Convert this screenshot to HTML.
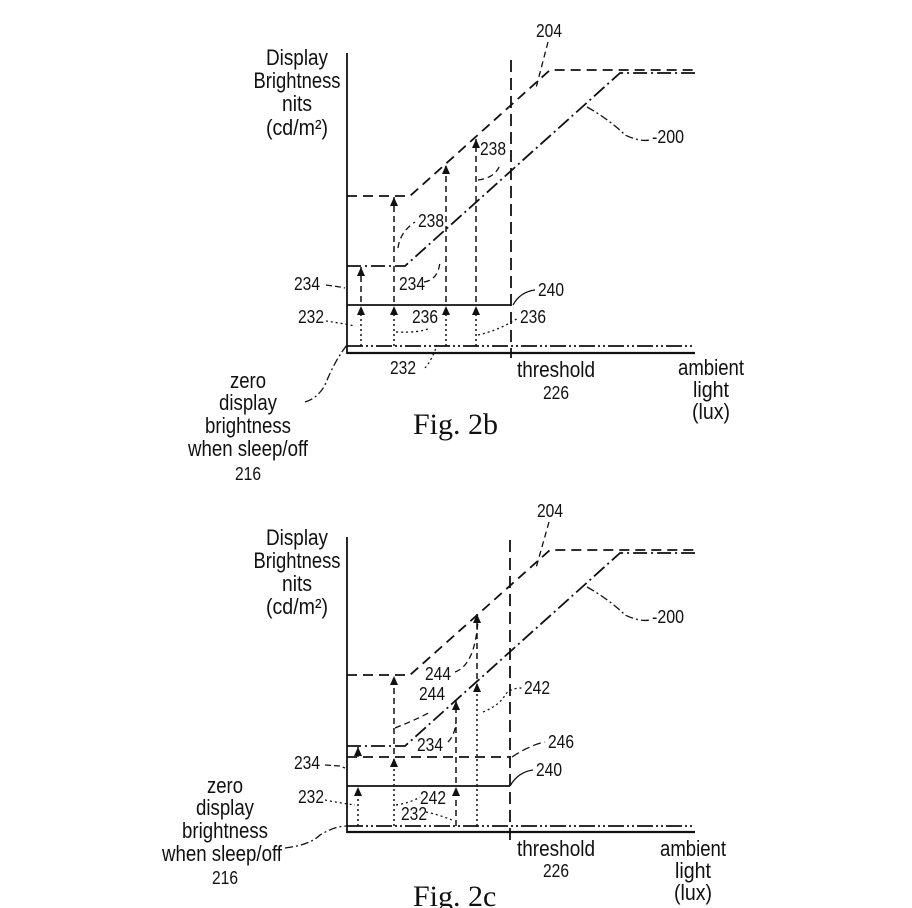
<!DOCTYPE html>
<html><head><meta charset="utf-8"><style>
html,body{margin:0;padding:0;background:#fff;}
svg{display:block}
text{font-family:"Liberation Sans",sans-serif;fill:#111;}
.n{font-size:18px}
.L{font-size:22px}
.f{font-family:"Liberation Serif",serif;font-size:30px}
</style></head><body>
<svg width="912" height="908" viewBox="0 0 912 908" xmlns="http://www.w3.org/2000/svg" stroke="#111" fill="none">
<defs>
<marker id="a" markerWidth="10" markerHeight="8" refX="9" refY="4" orient="auto" markerUnits="userSpaceOnUse">
<path d="M0,0 L9,4 L0,8 Z" fill="#111" stroke="none"/></marker>
</defs>

<!-- ============ FIG 2b ============ -->
<g stroke-width="1.8">
<line x1="347" y1="53" x2="347" y2="354"/>
<line x1="347" y1="353" x2="695" y2="353" stroke-width="2.2"/>
<line x1="347" y1="346" x2="695" y2="346" stroke-dasharray="16 3 2 3 2 3"/>
<line x1="511" y1="60" x2="511" y2="358" stroke-dasharray="12 6"/>
<polyline points="347,196 410,196 550,70 695,70" stroke-dasharray="10 6"/>
<polyline points="347,266 405,266 620,73 695,73" stroke-dasharray="14 4 2 4"/>
<line x1="347" y1="305" x2="511" y2="305"/>
<g stroke-width="1.5">
<line x1="361" y1="346" x2="361" y2="306" stroke-dasharray="2 3" marker-end="url(#a)"/>
<line x1="361" y1="302" x2="361" y2="267" stroke-dasharray="6 4" marker-end="url(#a)"/>
<line x1="394" y1="346" x2="394" y2="306" stroke-dasharray="2 3" marker-end="url(#a)"/>
<line x1="394" y1="302" x2="394" y2="197" stroke-dasharray="6 4" marker-end="url(#a)"/>
<line x1="446" y1="346" x2="446" y2="306" stroke-dasharray="2 3" marker-end="url(#a)"/>
<line x1="446" y1="302" x2="446" y2="165" stroke-dasharray="6 4" marker-end="url(#a)"/>
<line x1="476" y1="346" x2="476" y2="306" stroke-dasharray="2 3" marker-end="url(#a)"/>
<line x1="476" y1="302" x2="476" y2="139" stroke-dasharray="6 4" marker-end="url(#a)"/>
</g>
<g stroke-width="1.3">
<path d="M548,42 L536,88" stroke-dasharray="6 4"/>
<path d="M587,107 Q610,120 625,135 Q640,142 650,140" stroke-dasharray="8 3 2 3"/>
<path d="M478,180 Q495,178 500,165" stroke-dasharray="6 4"/>
<path d="M398,248 Q400,232 415,222" stroke-dasharray="6 4"/>
<path d="M424,282 Q438,280 440,262" stroke-dasharray="6 4"/>
<path d="M326,285 L340,287 L345,288" stroke-dasharray="6 3"/>
<path d="M513,305 Q520,292 535,290"/>
<path d="M326,321 Q340,323 355,326" stroke-dasharray="2 3"/>
<path d="M396,332 Q420,333 430,328" stroke-dasharray="2 3"/>
<path d="M478,335 Q500,330 518,318" stroke-dasharray="2 3"/>
<path d="M425,368 Q432,360 437,345" stroke-dasharray="2 3"/>
<path d="M305,402 Q318,398 325,385 Q335,360 347,345" stroke-dasharray="8 3 2 3"/>
</g>
</g>
<g stroke="none">
<text class="L" x="297" y="65" text-anchor="middle" textLength="62" lengthAdjust="spacingAndGlyphs">Display</text>
<text class="L" x="297" y="88" text-anchor="middle" textLength="87" lengthAdjust="spacingAndGlyphs">Brightness</text>
<text class="L" x="297" y="111" text-anchor="middle" textLength="30" lengthAdjust="spacingAndGlyphs">nits</text>
<text class="L" x="297" y="135" text-anchor="middle" textLength="62" lengthAdjust="spacingAndGlyphs">(cd/m²)</text>
<text class="n" x="536" y="37" textLength="26" lengthAdjust="spacingAndGlyphs">204</text>
<text class="n" x="652" y="143" textLength="32" lengthAdjust="spacingAndGlyphs">-200</text>
<text class="n" x="480" y="155" textLength="26" lengthAdjust="spacingAndGlyphs">238</text>
<text class="n" x="418" y="227" textLength="26" lengthAdjust="spacingAndGlyphs">238</text>
<text class="n" x="294" y="290" textLength="26" lengthAdjust="spacingAndGlyphs">234</text>
<text class="n" x="399" y="290" textLength="26" lengthAdjust="spacingAndGlyphs">234</text>
<text class="n" x="538" y="296" textLength="26" lengthAdjust="spacingAndGlyphs">240</text>
<text class="n" x="298" y="323" textLength="26" lengthAdjust="spacingAndGlyphs">232</text>
<text class="n" x="412" y="323" textLength="26" lengthAdjust="spacingAndGlyphs">236</text>
<text class="n" x="520" y="323" textLength="26" lengthAdjust="spacingAndGlyphs">236</text>
<text class="n" x="390" y="374" textLength="26" lengthAdjust="spacingAndGlyphs">232</text>
<text class="L" x="556" y="377" text-anchor="middle" textLength="78" lengthAdjust="spacingAndGlyphs">threshold</text>
<text class="n" x="556" y="399" text-anchor="middle" textLength="26" lengthAdjust="spacingAndGlyphs">226</text>
<text class="L" x="711" y="375" text-anchor="middle" textLength="66" lengthAdjust="spacingAndGlyphs">ambient</text>
<text class="L" x="711" y="397" text-anchor="middle" textLength="36" lengthAdjust="spacingAndGlyphs">light</text>
<text class="L" x="711" y="419" text-anchor="middle" textLength="38" lengthAdjust="spacingAndGlyphs">(lux)</text>
<text class="L" x="248" y="388" text-anchor="middle" textLength="36" lengthAdjust="spacingAndGlyphs">zero</text>
<text class="L" x="248" y="410" text-anchor="middle" textLength="58" lengthAdjust="spacingAndGlyphs">display</text>
<text class="L" x="248" y="433" text-anchor="middle" textLength="86" lengthAdjust="spacingAndGlyphs">brightness</text>
<text class="L" x="248" y="456" text-anchor="middle" textLength="120" lengthAdjust="spacingAndGlyphs">when sleep/off</text>
<text class="n" x="248" y="480" text-anchor="middle" textLength="26" lengthAdjust="spacingAndGlyphs">216</text>
<text class="f" x="413" y="434">Fig. 2b</text>
</g>

<!-- ============ FIG 2c ============ -->
<g stroke-width="1.8">
<line x1="347" y1="537" x2="347" y2="833"/>
<line x1="347" y1="832" x2="695" y2="832" stroke-width="2.2"/>
<line x1="347" y1="826" x2="695" y2="826" stroke-dasharray="16 3 2 3 2 3"/>
<line x1="510" y1="540" x2="510" y2="840" stroke-dasharray="12 6"/>
<polyline points="347,675 410,675 550,550 695,550" stroke-dasharray="10 6"/>
<polyline points="347,746 405,746 620,553 695,553" stroke-dasharray="14 4 2 4"/>
<line x1="347" y1="786" x2="510" y2="786"/>
<line x1="347" y1="757" x2="510" y2="757" stroke-dasharray="10 6"/>
<g stroke-width="1.5">
<line x1="358" y1="826" x2="358" y2="787" stroke-dasharray="2 3" marker-end="url(#a)"/>
<line x1="358" y1="757" x2="358" y2="747" marker-end="url(#a)"/>
<line x1="394" y1="826" x2="394" y2="758" stroke-dasharray="2 3" marker-end="url(#a)"/>
<line x1="394" y1="754" x2="394" y2="676" stroke-dasharray="6 4" marker-end="url(#a)"/>
<line x1="456" y1="826" x2="456" y2="787" stroke-dasharray="6 4" marker-end="url(#a)"/>
<line x1="456" y1="783" x2="456" y2="701" stroke-dasharray="6 4" marker-end="url(#a)"/>
<line x1="477" y1="826" x2="477" y2="683" stroke-dasharray="2 3" marker-end="url(#a)"/>
<line x1="477" y1="679" x2="477" y2="614" stroke-dasharray="6 4" marker-end="url(#a)"/>
</g>
<g stroke-width="1.3">
<path d="M549,522 L536,568" stroke-dasharray="6 4"/>
<path d="M587,587 Q610,600 625,615 Q640,622 650,620" stroke-dasharray="8 3 2 3"/>
<path d="M455,672 Q475,665 478,620" stroke-dasharray="6 4"/>
<path d="M395,728 Q420,718 430,712" stroke-dasharray="6 4"/>
<path d="M448,742 Q455,735 456,722" stroke-dasharray="6 4"/>
<path d="M483,712 Q500,705 505,695 Q510,688 522,688" stroke-dasharray="2 3"/>
<path d="M512,757 Q530,745 545,742" stroke-dasharray="8 4"/>
<path d="M325,765 L340,766 L345,768" stroke-dasharray="6 3"/>
<path d="M510,786 Q518,772 533,770"/>
<path d="M325,800 Q340,803 355,805" stroke-dasharray="2 3"/>
<path d="M396,805 Q410,803 420,797" stroke-dasharray="2 3"/>
<path d="M426,812 Q440,815 452,820" stroke-dasharray="2 3"/>
<path d="M285,848 Q310,845 320,835 Q335,826 347,826" stroke-dasharray="8 3 2 3"/>
</g>
</g>
<g stroke="none">
<text class="L" x="297" y="545" text-anchor="middle" textLength="62" lengthAdjust="spacingAndGlyphs">Display</text>
<text class="L" x="297" y="568" text-anchor="middle" textLength="87" lengthAdjust="spacingAndGlyphs">Brightness</text>
<text class="L" x="297" y="591" text-anchor="middle" textLength="30" lengthAdjust="spacingAndGlyphs">nits</text>
<text class="L" x="297" y="614" text-anchor="middle" textLength="62" lengthAdjust="spacingAndGlyphs">(cd/m²)</text>
<text class="n" x="537" y="517" textLength="26" lengthAdjust="spacingAndGlyphs">204</text>
<text class="n" x="652" y="623" textLength="32" lengthAdjust="spacingAndGlyphs">-200</text>
<text class="n" x="425" y="680" textLength="26" lengthAdjust="spacingAndGlyphs">244</text>
<text class="n" x="419" y="700" textLength="26" lengthAdjust="spacingAndGlyphs">244</text>
<text class="n" x="524" y="694" textLength="26" lengthAdjust="spacingAndGlyphs">242</text>
<text class="n" x="417" y="751" textLength="26" lengthAdjust="spacingAndGlyphs">234</text>
<text class="n" x="548" y="748" textLength="26" lengthAdjust="spacingAndGlyphs">246</text>
<text class="n" x="294" y="769" textLength="26" lengthAdjust="spacingAndGlyphs">234</text>
<text class="n" x="536" y="776" textLength="26" lengthAdjust="spacingAndGlyphs">240</text>
<text class="n" x="298" y="803" textLength="26" lengthAdjust="spacingAndGlyphs">232</text>
<text class="n" x="420" y="804" textLength="26" lengthAdjust="spacingAndGlyphs">242</text>
<text class="n" x="401" y="820" textLength="26" lengthAdjust="spacingAndGlyphs">232</text>
<text class="L" x="556" y="856" text-anchor="middle" textLength="78" lengthAdjust="spacingAndGlyphs">threshold</text>
<text class="n" x="556" y="877" text-anchor="middle" textLength="26" lengthAdjust="spacingAndGlyphs">226</text>
<text class="L" x="693" y="856" text-anchor="middle" textLength="66" lengthAdjust="spacingAndGlyphs">ambient</text>
<text class="L" x="693" y="878" text-anchor="middle" textLength="36" lengthAdjust="spacingAndGlyphs">light</text>
<text class="L" x="693" y="900" text-anchor="middle" textLength="38" lengthAdjust="spacingAndGlyphs">(lux)</text>
<text class="L" x="225" y="793" text-anchor="middle" textLength="36" lengthAdjust="spacingAndGlyphs">zero</text>
<text class="L" x="225" y="815" text-anchor="middle" textLength="58" lengthAdjust="spacingAndGlyphs">display</text>
<text class="L" x="225" y="838" text-anchor="middle" textLength="86" lengthAdjust="spacingAndGlyphs">brightness</text>
<text class="L" x="222" y="861" text-anchor="middle" textLength="120" lengthAdjust="spacingAndGlyphs">when sleep/off</text>
<text class="n" x="225" y="884" text-anchor="middle" textLength="26" lengthAdjust="spacingAndGlyphs">216</text>
<text class="f" x="413" y="906">Fig. 2c</text>
</g>
</svg>
</body></html>
